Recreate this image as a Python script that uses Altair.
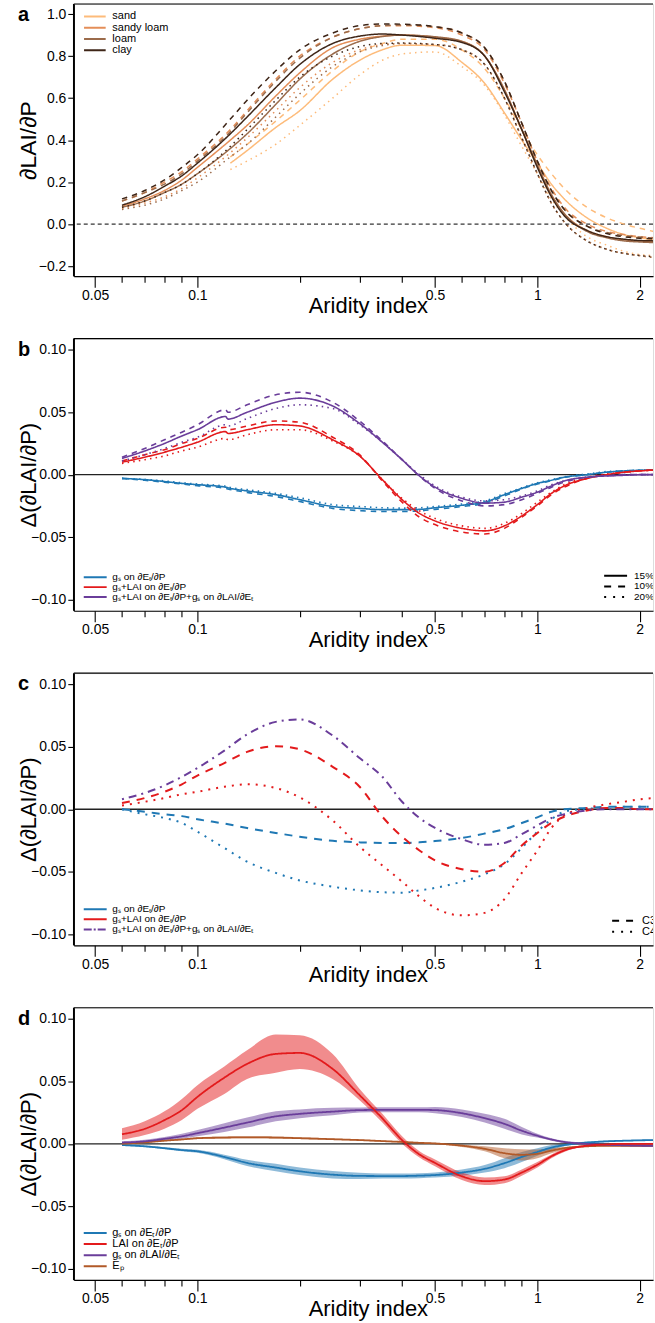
import altair as alt
import pandas as pd

FONT = "Liberation Sans"
W = 581
H = 273
XDOM = [0.04328, 2.189]
MAJOR_TICKS = [0.05, 0.1, 0.5, 1, 2]
MINOR_TICKS = [0.06, 0.07, 0.08, 0.09, 0.2, 0.3, 0.4, 0.6, 0.7, 0.8, 0.9]

# ---------------- panel a ----------------
GA = [0.06, 0.07, 0.08, 0.09, 0.1, 0.125, 0.14, 0.17, 0.2, 0.25, 0.3, 0.35, 0.4, 0.5,
      0.6, 0.7, 0.8, 0.9, 1.0, 1.1, 1.2, 1.4, 1.6, 1.8, 2.0, 2.2]
A_SAND_SOLID = [None, None, None, None, None, 0.29, 0.35, 0.46, 0.54, 0.69, 0.78, 0.83, 0.852, 0.85,
                0.77, 0.67, 0.53, 0.40, 0.29, 0.19, 0.12, 0.03, -0.02, -0.05, -0.065, -0.075]
A_SAND_DASHED = [None, None, None, None, None, 0.32, 0.38, 0.49, 0.59, 0.73, 0.82, 0.86, 0.88, 0.88,
                 0.83, 0.74, 0.60, 0.45, 0.33, 0.24, 0.17, 0.08, 0.03, 0.0, -0.02, -0.035]
A_SAND_DOTTED = [None, None, None, None, None, 0.26, 0.30, 0.38, 0.47, 0.60, 0.71, 0.78, 0.81, 0.82,
                 0.75, 0.66, 0.52, 0.37, 0.24, 0.12, 0.04, -0.06, -0.10, -0.13, -0.145, -0.15]
A_SLOAM_SOLID = [0.085, 0.12, 0.16, 0.21, 0.27, 0.40, 0.47, 0.61, 0.72, 0.84, 0.88, 0.895, 0.90, 0.89,
                 0.87, 0.80, 0.64, 0.45, 0.28, 0.14, 0.05, -0.03, -0.06, -0.075, -0.08, -0.085]
A_SLOAM_DASHED = [0.11, 0.15, 0.20, 0.25, 0.31, 0.45, 0.54, 0.69, 0.80, 0.89, 0.93, 0.945, 0.945, 0.935,
                  0.90, 0.83, 0.67, 0.48, 0.30, 0.17, 0.08, 0.0, -0.035, -0.05, -0.06, -0.065]
A_SLOAM_DOTTED = [0.075, 0.10, 0.13, 0.17, 0.22, 0.34, 0.41, 0.54, 0.65, 0.77, 0.83, 0.855, 0.86, 0.855,
                  0.83, 0.76, 0.60, 0.41, 0.24, 0.10, 0.01, -0.08, -0.12, -0.14, -0.15, -0.16]
A_LOAM_SOLID = [0.08, 0.11, 0.15, 0.19, 0.24, 0.36, 0.43, 0.57, 0.69, 0.81, 0.87, 0.893, 0.90, 0.892,
                0.87, 0.80, 0.64, 0.45, 0.28, 0.14, 0.05, -0.035, -0.065, -0.08, -0.085, -0.088]
A_LOAM_DASHED = [0.11, 0.15, 0.19, 0.24, 0.30, 0.44, 0.53, 0.68, 0.79, 0.89, 0.93, 0.945, 0.948, 0.94,
                 0.91, 0.84, 0.68, 0.48, 0.30, 0.16, 0.07, -0.01, -0.04, -0.055, -0.062, -0.066]
A_LOAM_DOTTED = [0.07, 0.09, 0.12, 0.16, 0.20, 0.32, 0.38, 0.51, 0.62, 0.75, 0.82, 0.85, 0.86, 0.855,
                 0.83, 0.76, 0.60, 0.41, 0.24, 0.10, 0.01, -0.08, -0.12, -0.14, -0.15, -0.16]
A_CLAY_SOLID = [0.09, 0.13, 0.18, 0.23, 0.29, 0.43, 0.51, 0.65, 0.76, 0.86, 0.895, 0.905, 0.90, 0.885,
                0.865, 0.80, 0.63, 0.45, 0.27, 0.13, 0.04, -0.03, -0.06, -0.072, -0.078, -0.08]
A_CLAY_DASHED = [0.12, 0.16, 0.21, 0.27, 0.33, 0.50, 0.59, 0.73, 0.83, 0.91, 0.945, 0.953, 0.952, 0.94,
                 0.91, 0.84, 0.68, 0.48, 0.30, 0.16, 0.07, -0.01, -0.045, -0.06, -0.067, -0.07]
A_CLAY_DOTTED = [0.08, 0.11, 0.15, 0.19, 0.24, 0.37, 0.45, 0.59, 0.70, 0.80, 0.845, 0.86, 0.862, 0.855,
                 0.83, 0.76, 0.60, 0.41, 0.24, 0.10, 0.01, -0.08, -0.12, -0.14, -0.15, -0.155]
SOILS = ["sand", "sandy loam", "loam", "clay"]
SOIL_COLORS = ["#FDBB7A", "#E48E58", "#9B6B4B", "#3E2517"]

# ---------------- panel b ----------------
GB = [0.06, 0.07, 0.08, 0.09, 0.1, 0.121, 0.123, 0.14, 0.17, 0.2, 0.25, 0.3, 0.35, 0.4, 0.45, 0.5,
      0.6, 0.7, 0.8, 0.9, 1.0, 1.1, 1.2, 1.4, 1.6, 1.8, 2.0, 2.2]
B_BLUE_15 = [-0.003, -0.004, -0.0055, -0.007, -0.008, -0.010, -0.0105, -0.013, -0.016, -0.020, -0.0255,
             -0.027, -0.028, -0.028, -0.0278, -0.0265, -0.0245, -0.022, -0.016, -0.011, -0.007, -0.0045,
             -0.002, 0.0, 0.002, 0.003, 0.0035, 0.0037]
B_BLUE_10 = [-0.003, -0.0045, -0.006, -0.0075, -0.0088, -0.011, -0.0115, -0.0142, -0.0175, -0.0215, -0.027,
             -0.0288, -0.0295, -0.0295, -0.029, -0.0278, -0.0255, -0.023, -0.017, -0.0115, -0.0075, -0.0048,
             -0.0022, 0.0, 0.002, 0.003, 0.0035, 0.0037]
B_BLUE_20 = [-0.003, -0.0038, -0.005, -0.0065, -0.0075, -0.0092, -0.0098, -0.012, -0.015, -0.0185, -0.024,
             -0.0255, -0.0265, -0.0268, -0.0265, -0.0255, -0.0235, -0.021, -0.0152, -0.0105, -0.0065, -0.004,
             -0.0018, 0.0005, 0.0025, 0.0032, 0.0036, 0.0038]
B_RED_15 = [0.010, 0.014, 0.018, 0.022, 0.026, 0.0345, 0.033, 0.036, 0.040, 0.039, 0.028, 0.015, -0.004,
            -0.020, -0.031, -0.037, -0.043, -0.045, -0.041, -0.033, -0.024, -0.015, -0.009, -0.003, 0.0,
            0.002, 0.003, 0.0037]
B_RED_10 = [0.011, 0.016, 0.020, 0.025, 0.029, 0.038, 0.036, 0.039, 0.043, 0.042, 0.030, 0.016, -0.005,
            -0.022, -0.034, -0.040, -0.046, -0.0475, -0.043, -0.034, -0.025, -0.016, -0.010, -0.003, 0.0,
            0.002, 0.003, 0.004]
B_RED_20 = [0.009, 0.012, 0.015, 0.019, 0.022, 0.029, 0.028, 0.032, 0.036, 0.036, 0.027, 0.015, -0.004,
            -0.019, -0.029, -0.035, -0.041, -0.043, -0.039, -0.031, -0.022, -0.014, -0.008, -0.002, 0.0005,
            0.002, 0.003, 0.0037]
B_PUR_15 = [0.013, 0.019, 0.025, 0.031, 0.036, 0.0466, 0.0445, 0.050, 0.058, 0.0613, 0.055, 0.041, 0.026,
            0.012, -0.001, -0.010, -0.019, -0.0228, -0.022, -0.018, -0.014, -0.009, -0.005, -0.002, -0.001,
            -0.0005, 0.0, 0.0]
B_PUR_10 = [0.014, 0.021, 0.028, 0.034, 0.040, 0.052, 0.050, 0.056, 0.064, 0.066, 0.058, 0.043, 0.027,
            0.012, -0.001, -0.011, -0.021, -0.025, -0.024, -0.020, -0.015, -0.010, -0.006, -0.002, -0.001,
            0.0, 0.0, 0.0]
B_PUR_20 = [0.011, 0.016, 0.021, 0.026, 0.030, 0.040, 0.039, 0.045, 0.053, 0.056, 0.053, 0.040, 0.026,
            0.012, 0.0, -0.009, -0.018, -0.021, -0.020, -0.017, -0.013, -0.008, -0.005, -0.002, -0.001,
            0.0, 0.0, 0.0]

# ---------------- panel c ----------------
GC = [0.06, 0.07, 0.08, 0.09, 0.1, 0.12, 0.14, 0.17, 0.2, 0.25, 0.3, 0.35, 0.4, 0.45, 0.5, 0.6, 0.7,
      0.8, 0.9, 1.0, 1.1, 1.2, 1.4, 1.6, 1.8, 2.0, 2.2]
C_BLUE_C3 = [0.0, -0.002, -0.004, -0.0055, -0.008, -0.0115, -0.015, -0.019, -0.022, -0.0253, -0.0265,
             -0.027, -0.027, -0.0265, -0.0255, -0.023, -0.0195, -0.016, -0.011, -0.0065, -0.002, 0.0, 0.001,
             0.002, 0.002, 0.002, 0.002]
C_BLUE_C4 = [0.0, -0.004, -0.007, -0.011, -0.018, -0.031, -0.042, -0.051, -0.057, -0.062, -0.065, -0.0665,
             -0.0668, -0.065, -0.063, -0.058, -0.052, -0.044, -0.031, -0.018, -0.008, -0.002, 0.0005, 0.001,
             0.002, 0.002, 0.002]
C_RED_C3 = [0.005, 0.009, 0.014, 0.020, 0.027, 0.037, 0.046, 0.0505, 0.048, 0.034, 0.018, -0.006, -0.022,
            -0.033, -0.041, -0.048, -0.050, -0.043, -0.029, -0.019, -0.011, -0.006, -0.001, 0.001, 0.001,
            0.0, 0.0]
C_RED_C4 = [0.003, 0.006, 0.009, 0.012, 0.014, 0.018, 0.020, 0.017, 0.0095, -0.009, -0.030, -0.045, -0.058,
            -0.070, -0.079, -0.085, -0.083, -0.072, -0.051, -0.033, -0.015, -0.005, 0.001, 0.004, 0.006,
            0.008, 0.009]
C_PUR_C3 = [0.008, 0.013, 0.019, 0.026, 0.033, 0.047, 0.060, 0.070, 0.072, 0.059, 0.041, 0.026, 0.006,
            -0.007, -0.015, -0.024, -0.0285, -0.027, -0.020, -0.013, -0.007, -0.004, -0.001, 0.0, 0.0, 0.0,
            0.0]

# ---------------- panel d (same grid as c) ----------------
D_BLUE = [-0.001, -0.002, -0.0035, -0.005, -0.006, -0.0105, -0.0153, -0.019, -0.022, -0.0247, -0.0257,
          -0.0258, -0.0258, -0.0255, -0.025, -0.023, -0.020, -0.0155, -0.0105, -0.0065, -0.003, -0.001,
          0.001, 0.002, 0.0025, 0.0028, 0.003]
D_BLUE_HI = [-0.0005, -0.0014, -0.0027, -0.004, -0.0048, -0.0087, -0.0128, -0.016, -0.019, -0.0217,
             -0.0232, -0.0238, -0.0238, -0.0235, -0.023, -0.0205, -0.017, -0.0115, -0.0065, -0.0035,
             -0.001, 0.0, 0.0018, 0.0026, 0.003, 0.0033, 0.0035]
D_BLUE_LO = [-0.0015, -0.0026, -0.0043, -0.006, -0.0072, -0.0123, -0.0178, -0.022, -0.025, -0.0277,
             -0.0282, -0.0278, -0.0278, -0.0275, -0.027, -0.0255, -0.023, -0.0195, -0.0145, -0.0095,
             -0.005, -0.002, 0.0002, 0.0014, 0.002, 0.0023, 0.0025]
D_RED = [0.0077, 0.012, 0.019, 0.027, 0.0376, 0.053, 0.064, 0.072, 0.0728, 0.060, 0.039, 0.0204, 0.003,
         -0.0085, -0.0153, -0.026, -0.0299, -0.0286, -0.023, -0.0167, -0.010, -0.0053, -0.0015, -0.0005,
         0.0, 0.0, 0.0]
D_RED_HI = [0.0125, 0.018, 0.026, 0.036, 0.047, 0.062, 0.075, 0.0875, 0.087, 0.072, 0.044, 0.024, 0.006,
            -0.006, -0.0125, -0.023, -0.027, -0.026, -0.0205, -0.0145, -0.0085, -0.004, -0.001, 0.0,
            0.0004, 0.0004, 0.0004]
D_RED_LO = [0.0032, 0.007, 0.012, 0.019, 0.028, 0.040, 0.052, 0.057, 0.060, 0.052, 0.035, 0.017, 0.0,
            -0.011, -0.018, -0.029, -0.033, -0.0315, -0.0255, -0.019, -0.0115, -0.0065, -0.002, -0.001,
            -0.0004, -0.0004, -0.0004]
D_PUR = [0.001, 0.002, 0.004, 0.006, 0.0085, 0.013, 0.017, 0.022, 0.024, 0.0258, 0.027, 0.0272, 0.0272,
         0.0272, 0.027, 0.0245, 0.0205, 0.016, 0.0105, 0.0065, 0.0035, 0.0015, 0.0, -0.0008, -0.0012,
         -0.0015, -0.0016]
D_PUR_HI = [0.002, 0.0032, 0.0055, 0.008, 0.011, 0.0165, 0.021, 0.026, 0.0275, 0.0288, 0.029, 0.0292,
            0.0292, 0.0292, 0.0295, 0.0275, 0.024, 0.020, 0.0135, 0.008, 0.0045, 0.0025, 0.0008, 0.0,
            -0.0004, -0.0007, -0.0008]
D_PUR_LO = [0.0, 0.0008, 0.0025, 0.004, 0.006, 0.0095, 0.013, 0.018, 0.0205, 0.0228, 0.025, 0.0252,
            0.0252, 0.0252, 0.0245, 0.0215, 0.017, 0.012, 0.0075, 0.005, 0.0025, 0.0005, -0.0008, -0.0016,
            -0.002, -0.0023, -0.0024]
D_BROWN = [0.0, 0.0012, 0.0025, 0.0035, 0.0045, 0.005, 0.0052, 0.005, 0.0045, 0.0037, 0.003, 0.0022,
           0.0015, 0.0008, 0.0003, -0.0015, -0.004, -0.0075, -0.0088, -0.008, -0.0055, -0.0035, -0.002,
           -0.0016, -0.0016, -0.0016, -0.0016]
D_BROWN_HI = [0.0003, 0.0016, 0.003, 0.0041, 0.0052, 0.0058, 0.006, 0.0058, 0.0052, 0.0043, 0.0035,
              0.0027, 0.002, 0.0013, 0.0009, -0.0005, -0.002, -0.0035, -0.0043, -0.0045, -0.0035, -0.0025,
              -0.0014, -0.0012, -0.0013, -0.0013, -0.0013]
D_BROWN_LO = [-0.0003, 0.0008, 0.002, 0.0029, 0.0038, 0.0042, 0.0044, 0.0042, 0.0038, 0.0031, 0.0025,
              0.0017, 0.001, 0.0003, -0.0003, -0.0025, -0.006, -0.0115, -0.0133, -0.0115, -0.0075, -0.0045,
              -0.0026, -0.002, -0.0019, -0.0019, -0.0019]

GROUPS = ["blue", "red", "purple", "brown"]
GROUP_COLORS = ["#1F78B4", "#E31A1C", "#6A3D9A", "#B15928"]

# legend texts
LEG_A = ["sand", "sandy loam", "loam", "clay"]
LEG_BC = ["gₛ on ∂Eₜ/∂P", "gₛ+LAI on ∂Eₜ/∂P", "gₛ+LAI on ∂Eₜ/∂P+gₛ on ∂LAI/∂Eₜ"]
LEG_B_STYLE = ["15%", "10%", "20%"]
LEG_C_STYLE = ["C3", "C4"]
LEG_D = ["gₛ on ∂Eₜ/∂P", "LAI on ∂Eₜ/∂P", "gₛ on ∂LAI/∂Eₜ", "Eₚ"]


# ---------------- helpers ----------------
def long_df(grid, series):
    rows = []
    for grp, style, vals in series:
        for x, v in zip(grid, vals):
            if v is not None:
                rows.append({"ai": x, "v": v, "grp": grp, "style": style, "key": grp + "|" + style})
    return pd.DataFrame(rows)


def band_df(grid, series):
    rows = []
    for grp, lo, hi in series:
        for x, a, b in zip(grid, lo, hi):
            rows.append({"ai": x, "lo": a, "hi": b, "grp": grp})
    return pd.DataFrame(rows)


def xs():
    return alt.Scale(type="log", domain=XDOM, nice=False)


def x_axis():
    return alt.Axis(orient="bottom", values=MAJOR_TICKS, format="~g", tickSize=11, tickWidth=1.1,
                    tickColor="black", domain=True, domainColor="black", domainWidth=1.2, labelPadding=1,
                    labelFont=FONT, labelFontSize=14, labelColor="black", labelFlush=False,
                    labelOverlap=False, grid=False, title="Aridity index", titleFont=FONT,
                    titleFontSize=22, titleFontWeight="normal", titleColor="black", titleX=295,
                    titleY=36, titleAlign="center", titleBaseline="alphabetic")


def minor_axis():
    return alt.Axis(orient="bottom", values=MINOR_TICKS, tickSize=6, tickWidth=1.1, tickColor="black",
                    labels=False, domain=False, grid=False, title=None)


def y_axis(values, fmt, title, tsize=22):
    return alt.Axis(values=values, format=fmt, tickSize=6, tickWidth=1.1, tickColor="black",
                    domain=True, domainColor="black", domainWidth=1.2, labelPadding=2, labelFont=FONT,
                    labelFontSize=14, labelColor="black", labelFlush=False, grid=False, title=title,
                    titleFont=FONT, titleFontSize=tsize, titleFontWeight="normal", titleColor="black",
                    titleX=-45, titleY=H / 2, titleAngle=270, titleAlign="center",
                    titleBaseline="middle")


ONE = pd.DataFrame({"k": [0]})
ZERO = pd.DataFrame({"v": [0.0]})
MINOR_DF = pd.DataFrame({"ai": MINOR_TICKS})


def legend_entry(x0, x1, y, color, dash, label, tx, fs=10, sw=2):
    line = alt.Chart(ONE).mark_rule(color=color, strokeWidth=sw, strokeDash=dash, clip=True).encode(
        x=alt.value(x0), x2=alt.value(x1), y=alt.value(y))
    text = alt.Chart(ONE).mark_text(align="left", baseline="middle", fontSize=fs, font=FONT,
                                    color="black", clip=True, text=label).encode(
        x=alt.value(tx), y=alt.value(y))
    return [line, text]


def frame_layers(letter):
    minor = alt.Chart(MINOR_DF).mark_point(opacity=0, size=1).encode(
        x=alt.X("ai:Q", scale=xs(), axis=minor_axis()), y=alt.value(0))
    top = alt.Chart(ONE).mark_rule(color="black", strokeWidth=1.2).encode(
        x=alt.value(0), x2=alt.value(W), y=alt.value(0))
    let = alt.Chart(ONE).mark_text(text=letter, fontSize=20, fontWeight="bold", font=FONT,
                                   align="left", baseline="alphabetic", color="black").encode(
        x=alt.value(-56), y=alt.value(17))
    return [minor, top, let]


def left_border():
    return alt.Chart(ONE).mark_rule(color="black", strokeWidth=1.6).encode(
        x=alt.value(0), y=alt.value(0), y2=alt.value(H))


# ---------------- panel a ----------------
ya = alt.Scale(domain=[-0.248, 1.048], nice=False, zero=False)
YA_AXIS = y_axis([-0.2, 0, 0.2, 0.4, 0.6, 0.8, 1.0], ".1f", "∂LAI/∂P", 23)
dfa = long_df(GA, [
    ("sand", "solid", A_SAND_SOLID), ("sand", "dashed", A_SAND_DASHED), ("sand", "dotted", A_SAND_DOTTED),
    ("sandy loam", "solid", A_SLOAM_SOLID), ("sandy loam", "dashed", A_SLOAM_DASHED),
    ("sandy loam", "dotted", A_SLOAM_DOTTED),
    ("loam", "solid", A_LOAM_SOLID), ("loam", "dashed", A_LOAM_DASHED), ("loam", "dotted", A_LOAM_DOTTED),
    ("clay", "solid", A_CLAY_SOLID), ("clay", "dashed", A_CLAY_DASHED), ("clay", "dotted", A_CLAY_DOTTED),
])
lines_a = alt.Chart(dfa).mark_line(strokeWidth=1.5, clip=True, interpolate="monotone").encode(
    x=alt.X("ai:Q", scale=xs(), axis=x_axis()),
    y=alt.Y("v:Q", scale=ya, axis=YA_AXIS),
    color=alt.Color("grp:N", scale=alt.Scale(domain=SOILS, range=SOIL_COLORS), legend=None),
    strokeDash=alt.StrokeDash("style:N", scale=alt.Scale(domain=["solid", "dashed", "dotted"],
                                                         range=[[1, 0], [5.5, 5], [1.5, 4.2]]),
                              legend=None),
    detail="key:N",
)
zero_a = alt.Chart(ZERO).mark_rule(color="black", strokeWidth=1, strokeDash=[4, 3]).encode(
    y=alt.Y("v:Q", scale=ya, axis=YA_AXIS))
leg_a = []
for i, (lab, col) in enumerate(zip(LEG_A, SOIL_COLORS)):
    leg_a += legend_entry(10.3, 32, 12.5 + 11.3 * i, col, [1, 0], lab, 38.7, fs=11)
panel_a = alt.layer(zero_a, lines_a, *frame_layers("a"), *leg_a, left_border()).resolve_axis(
    x="independent").properties(width=W, height=H)

# ---------------- panels b-d ----------------
yb = alt.Scale(domain=[-0.109, 0.109], nice=False, zero=False)
YB_VALUES = [-0.1, -0.05, 0, 0.05, 0.1]
YTITLE = "Δ(∂LAI/∂P)"
YB_AXIS = y_axis(YB_VALUES, ".2f", YTITLE)


def zero_line():
    return alt.Chart(ZERO).mark_rule(color="#222222", strokeWidth=1.3).encode(
        y=alt.Y("v:Q", scale=yb, axis=YB_AXIS))


def lines_layer(df, styles, dashes, sw):
    return alt.Chart(df).mark_line(strokeWidth=sw, clip=True, interpolate="monotone").encode(
        x=alt.X("ai:Q", scale=xs(), axis=x_axis()),
        y=alt.Y("v:Q", scale=yb, axis=YB_AXIS),
        color=alt.Color("grp:N", scale=alt.Scale(domain=GROUPS, range=GROUP_COLORS), legend=None),
        strokeDash=alt.StrokeDash("style:N", scale=alt.Scale(domain=styles, range=dashes), legend=None),
        detail="key:N",
    )


dfb = long_df(GB, [
    ("blue", "15", B_BLUE_15), ("blue", "10", B_BLUE_10), ("blue", "20", B_BLUE_20),
    ("red", "15", B_RED_15), ("red", "10", B_RED_10), ("red", "20", B_RED_20),
    ("purple", "15", B_PUR_15), ("purple", "10", B_PUR_10), ("purple", "20", B_PUR_20),
])
lines_b = lines_layer(dfb, ["15", "10", "20"], [[1, 0], [5.5, 5], [1.5, 4.2]], 1.6)
leg_b = []
for i, (lab, col) in enumerate(zip(LEG_BC, GROUP_COLORS[:3])):
    leg_b += legend_entry(10, 33, 239.3 + 10 * i, col, [1, 0], lab, 38.7)
for i, (lab, dash) in enumerate(zip(LEG_B_STYLE, [[1, 0], [7, 7], [2, 7]])):
    leg_b += legend_entry(532, 555, 238 + 10.6 * i, "black", dash, lab, 562)
panel_b = alt.layer(zero_line(), lines_b, *frame_layers("b"), *leg_b, left_border()).resolve_axis(
    x="independent").properties(width=W, height=H)

dfc = long_df(GC, [
    ("blue", "C3", C_BLUE_C3), ("blue", "C4", C_BLUE_C4),
    ("red", "C3", C_RED_C3), ("red", "C4", C_RED_C4),
    ("purple", "C3dd", C_PUR_C3),
])
lines_c = lines_layer(dfc, ["C3", "C4", "C3dd"], [[8, 7], [2, 6], [2, 5, 8, 5]], 2)
leg_c = []
for i, (lab, col) in enumerate(zip(LEG_BC, GROUP_COLORS[:3])):
    dash = [8, 2, 2, 2] if i == 2 else [1, 0]
    leg_c += legend_entry(10, 33, 236.7 + 10.2 * i, col, dash, lab, 38.7)
for i, (lab, dash) in enumerate(zip(LEG_C_STYLE, [[7, 7], [2, 7]])):
    leg_c += legend_entry(540, 563, 248.4 + 11 * i, "black", dash, lab, 570, fs=11)
panel_c = alt.layer(zero_line(), lines_c, *frame_layers("c"), *leg_c, left_border()).resolve_axis(
    x="independent").properties(width=W, height=H)

dfd = long_df(GC, [
    ("blue", "s", D_BLUE), ("brown", "s", D_BROWN), ("purple", "s", D_PUR), ("red", "s", D_RED),
])
dfd_band = band_df(GC, [
    ("blue", D_BLUE_LO, D_BLUE_HI), ("brown", D_BROWN_LO, D_BROWN_HI),
    ("purple", D_PUR_LO, D_PUR_HI), ("red", D_RED_LO, D_RED_HI),
])
bands_d = alt.Chart(dfd_band).mark_area(opacity=0.5, clip=True, interpolate="monotone").encode(
    x=alt.X("ai:Q", scale=xs(), axis=None),
    y=alt.Y("lo:Q", scale=yb, axis=YB_AXIS),
    y2="hi:Q",
    color=alt.Color("grp:N", scale=alt.Scale(domain=GROUPS, range=GROUP_COLORS), legend=None),
)
lines_d = lines_layer(dfd, ["s"], [[1, 0]], 1.8)
leg_d = []
for i, (lab, col) in enumerate(zip(LEG_D, GROUP_COLORS)):
    leg_d += legend_entry(10, 33, 226 + 11.1 * i, col, [1, 0], lab, 38.7, fs=11)
panel_d = alt.layer(bands_d, zero_line(), lines_d, *frame_layers("d"), *leg_d, left_border()).resolve_axis(
    x="independent").properties(width=W, height=H)

chart = alt.vconcat(panel_a, panel_b, panel_c, panel_d, spacing=62.6, bounds="flush").resolve_scale(
    color="independent", strokeDash="independent"
).properties(
    padding={"left": 17, "top": 0, "right": 0, "bottom": 0}
).configure_view(strokeWidth=0).configure(font=FONT, background="white")

chart.save("out.html", embed_options={"renderer": "svg", "actions": False})
